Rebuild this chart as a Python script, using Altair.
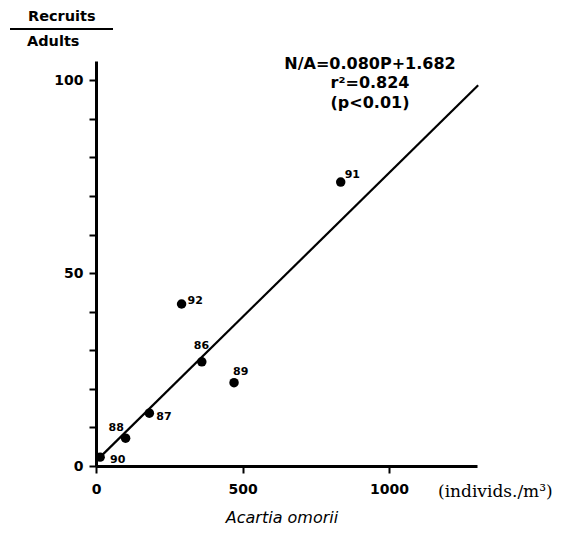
import altair as alt
import pandas as pd

# Data
years = ["90", "88", "87", "86", "89", "92", "91"]
density = [14, 101, 182, 361, 471, 292, 835]          # Acartia omorii (individs./m3)
ratio = [2.3, 7.2, 13.7, 27.0, 21.6, 42.0, 73.6]      # Recruits / Adults

fit_x = [14, 1304]
fit_y = [2.3, 98.7]

eq_lines = ["N/A=0.080P+1.682", "r²=0.824", "(p<0.01)"]
eq_y = [104.2, 99.3, 94.1]
eq_x = [935, 935, 935]

# label offsets (pixels) for each year label
label_offsets = {
    "91": (4, -7), "92": (6, -3), "86": (-8, -16), "89": (-1, -11),
    "87": (7, 4), "88": (-17, -10), "90": (10, 3),
}

pts = pd.DataFrame({"year": years, "x": density, "y": ratio})
fit = pd.DataFrame({"x": fit_x, "y": fit_y})
eq = pd.DataFrame({"t": eq_lines, "x": eq_x, "y": eq_y})

FONT = "DejaVu Sans"

xs = alt.Scale(domain=[0, 1300], nice=False, zero=False)
ys = alt.Scale(domain=[0, 105], nice=False, zero=False)

xax = alt.Axis(values=[0, 500, 1000], format="d", title=None, grid=False, domainWidth=3,
               domainColor="black", tickColor="black", tickWidth=2, tickSize=7,
               labelFont=FONT, labelFontWeight="bold", labelFontSize=14,
               labelColor="black", labelPadding=9, labelFlush=False)
yax = alt.Axis(values=list(range(0, 101, 10)), title=None, grid=False, domainWidth=3,
               domainColor="black", tickColor="black", tickWidth=2, tickSize=7,
               labelFont=FONT, labelFontWeight="bold", labelFontSize=14,
               labelColor="black", labelPadding=6, labelFlush=False,
               labelExpr="datum.value % 50 == 0 ? datum.label : ''")

line = alt.Chart(fit).mark_line(color="black", strokeWidth=2.2).encode(
    x=alt.X("x:Q", scale=xs, axis=xax),
    y=alt.Y("y:Q", scale=ys, axis=yax),
)

dots = alt.Chart(pts).mark_circle(color="black", size=90, opacity=1).encode(
    x=alt.X("x:Q", scale=xs),
    y=alt.Y("y:Q", scale=ys),
)

label_layers = []
for yr, (dx, dy) in label_offsets.items():
    label_layers.append(
        alt.Chart(pts).transform_filter(alt.datum.year == yr).mark_text(
            align="left", baseline="middle", dx=dx, dy=dy, font=FONT,
            fontWeight="bold", fontSize=11, color="black"
        ).encode(x=alt.X("x:Q", scale=xs), y=alt.Y("y:Q", scale=ys), text="year:N")
    )

eq_text = alt.Chart(eq).mark_text(
    align="center", baseline="middle", font=FONT, fontWeight="bold",
    fontSize=16, color="black"
).encode(x=alt.X("x:Q", scale=xs), y=alt.Y("y:Q", scale=ys), text="t:N")

one = pd.DataFrame({"a": [0]})

recruits = alt.Chart(one).mark_text(
    text="Recruits", align="left", baseline="middle", font=FONT,
    fontWeight="bold", fontSize=14.5, color="black"
).encode(x=alt.value(-68), y=alt.value(-44))

adults = alt.Chart(one).mark_text(
    text="Adults", align="left", baseline="middle", font=FONT,
    fontWeight="bold", fontSize=14.5, color="black"
).encode(x=alt.value(-69), y=alt.value(-19))

frac = alt.Chart(one).mark_rule(color="black", strokeWidth=2).encode(
    x=alt.value(-86), x2=alt.value(17), y=alt.value(-32)
)

units = alt.Chart(one).mark_text(
    text="(individs./m³)", align="left", baseline="middle", font="DejaVu Serif",
    fontSize=17, color="black"
).encode(x=alt.value(342), y=alt.value(431))

species = alt.Chart(one).mark_text(
    text="Acartia omorii", align="center", baseline="alphabetic", font=FONT,
    fontStyle="italic", fontSize=16, color="black"
).encode(x=alt.value(186), y=alt.value(462))

chart = alt.layer(
    line, dots, *label_layers, eq_text, recruits, adults, frac, units, species
).properties(
    width=381, height=405,
    autosize=alt.AutoSizeParams(type="none"),
    padding={"left": 88, "top": 53, "right": 86, "bottom": 60},
).configure(background="white").configure_view(stroke=None, strokeWidth=0)

chart.save("out.html", embed_options={"renderer": "svg", "actions": False})
